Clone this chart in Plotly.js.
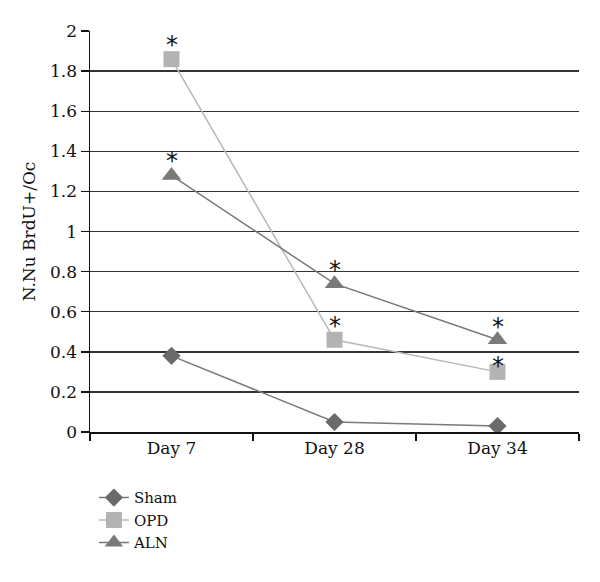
<!DOCTYPE html>
<html>
<head>
<meta charset="utf-8">
<script src="https://cdn.plot.ly/plotly-3.0.1.min.js"></script>
<style>html,body{margin:0;padding:0;background:#fff;}#chart{width:600px;height:582px;}</style>
</head>
<body>
<div id="chart"></div>
<script>
var categories = ["Day 7", "Day 28", "Day 34"];
var shamValues = [0.38, 0.05, 0.03];
var opdValues = [1.86, 0.46, 0.30];
var alnValues = [1.28, 0.74, 0.46];
var opdMarks = ["*", "*", "*"];
var alnMarks = ["*", "*", "*"];
var opdMarkShift = [14, 14, 6];
var alnMarkShift = [14, 14, 13];

var fontFam = "DejaVu Serif";

var traces = [
  {
    x: categories, y: shamValues, name: "Sham", type: "scatter",
    mode: "lines+markers",
    line: {color: "#7a7a7a", width: 1.5},
    marker: {symbol: "diamond", size: 14, color: "#6a6a6a"}
  },
  {
    x: categories, y: opdValues, name: "OPD", type: "scatter",
    mode: "lines+markers",
    line: {color: "#b8b8b8", width: 1.5},
    marker: {symbol: "square", size: 16, color: "#b3b3b3"}
  },
  {
    x: categories, y: alnValues, name: "ALN", type: "scatter",
    mode: "lines+markers",
    line: {color: "#777777", width: 1.5},
    marker: {symbol: "triangle-up", size: 17, color: "#7a7a7a"}
  }
];

function marks(vals, texts, shifts) {
  return vals.map(function (v, i) {
    return {x: categories[i], y: v, xref: "x", yref: "y", text: texts[i],
            showarrow: false, yshift: shifts[i],
            font: {family: "DejaVu Sans", size: 24, color: "#111"}};
  });
}

var layout = {
  width: 600, height: 582,
  margin: {l: 90, r: 21, t: 31, b: 150},
  paper_bgcolor: "#fff", plot_bgcolor: "#fff",
  font: {family: fontFam, size: 17, color: "#111"},
  showlegend: true,
  legend: {x: 0.008, y: -0.123, xanchor: "left", yanchor: "top", orientation: "v",
           font: {family: fontFam, size: 15, color: "#111"}, tracegroupgap: 0, itemwidth: 30},
  annotations: marks(opdValues, opdMarks, opdMarkShift).concat(marks(alnValues, alnMarks, alnMarkShift)),
  xaxis: {
    type: "category", range: [-0.5, 2.5], showline: true, linecolor: "#111", linewidth: 1.5,
    ticks: "outside", tickson: "boundaries", ticklen: 7, tickcolor: "#111", tickwidth: 1.5,
    showgrid: false, zeroline: false,
    tickfont: {family: fontFam, size: 17, color: "#111"}
  },
  yaxis: {
    range: [0, 2.0005], dtick: 0.2, tick0: 0,
    showline: true, linecolor: "#111", linewidth: 1.5,
    ticks: "outside", ticklen: 8, tickcolor: "#111", tickwidth: 1.5,
    showgrid: true, gridcolor: "#333", gridwidth: 1.4, zeroline: false,
    tickfont: {family: fontFam, size: 17, color: "#111"},
    title: {text: "N.Nu BrdU+/Oc", font: {family: fontFam, size: 17, color: "#111"}, standoff: 10}
  }
};

Plotly.newPlot("chart", traces, layout, {displayModeBar: false, staticPlot: true});
</script>
</body>
</html>
